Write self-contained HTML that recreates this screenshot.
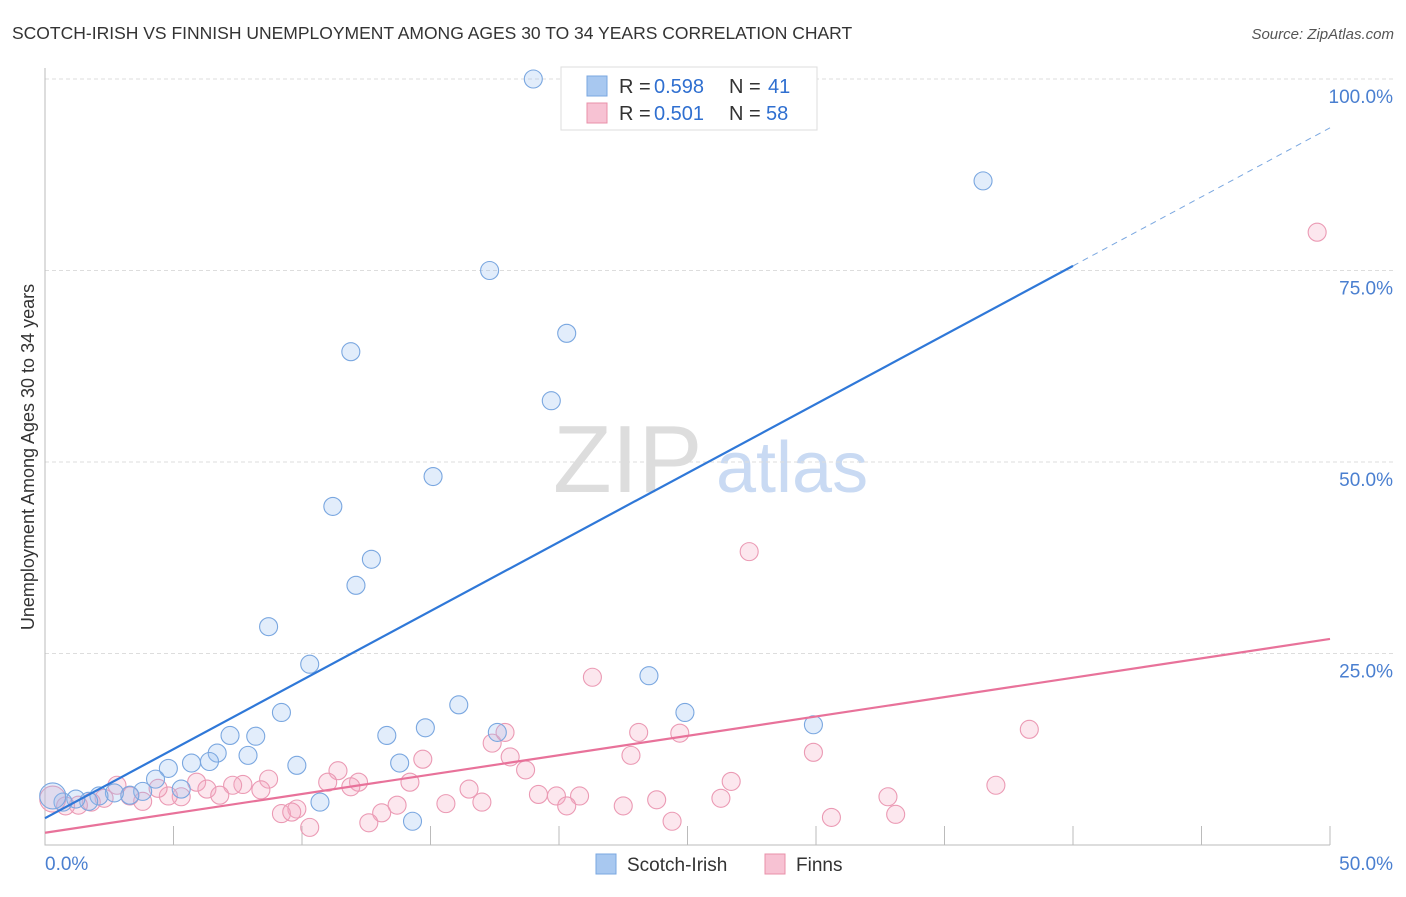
<!DOCTYPE html>
<html><head><meta charset="utf-8"><style>
body{margin:0;background:#fff;font-family:"Liberation Sans",sans-serif}
svg text{font-family:"Liberation Sans",sans-serif}
</style></head><body>
<svg width="1406" height="892" viewBox="0 0 1406 892" id="chart">
<text x="12" y="39" font-size="17.5" fill="#333">SCOTCH-IRISH VS FINNISH UNEMPLOYMENT AMONG AGES 30 TO 34 YEARS CORRELATION CHART</text>
<text x="1394" y="39" font-size="15" fill="#555" text-anchor="end" font-style="italic">Source: ZipAtlas.com</text>
<text x="34" y="457" font-size="18" fill="#333" text-anchor="middle" transform="rotate(-90 34 457)">Unemployment Among Ages 30 to 34 years</text>
<text x="553" y="492" font-size="96" fill="#ddd" font-family="Liberation Serif">ZIP</text>
<text x="716" y="492" font-size="72" fill="#c9daf3">atlas</text>
<g id="grid"></g><g id="pts"></g><g id="lines"></g>
<g>
<rect x="561" y="67" width="256" height="63" fill="#fff" stroke="#ddd"/>
<rect x="587" y="76" width="20" height="20" fill="#a8c8f0" stroke="#7aa7e0"/>
<text x="619" y="93" font-size="20" fill="#333">R =</text><text x="654" y="93" font-size="20" fill="#2f6fd0">0.598</text>
<text x="729" y="93" font-size="20" fill="#333">N =</text><text x="768" y="93" font-size="20" fill="#2f6fd0">41</text>
<rect x="587" y="103" width="20" height="20" fill="#f7c2d3" stroke="#e890aa"/>
<text x="619" y="120" font-size="20" fill="#333">R =</text><text x="654" y="120" font-size="20" fill="#2f6fd0">0.501</text>
<text x="729" y="120" font-size="20" fill="#333">N =</text><text x="766" y="120" font-size="20" fill="#2f6fd0">58</text>
</g>
<g>
<rect x="596" y="854" width="20" height="20" fill="#a8c8f0" stroke="#7aa7e0"/>
<text x="627" y="871" font-size="19" fill="#333">Scotch-Irish</text>
<rect x="765" y="854" width="20" height="20" fill="#f7c2d3" stroke="#e890aa"/>
<text x="796" y="871" font-size="19" fill="#333">Finns</text>
</g>
</svg>
<script>
const yTicks=[25,50,75,100];
const yTickLabels=["25.0%","50.0%","75.0%","100.0%"];
const xTicks=[5,10,15,20,25,30,35,40,45,50];
const blueX=[19,36.5,17.3,20.3,11.9,19.7,15.1,11.2,12.7,12.1,8.7,10.3,23.5,16.1,24.9,9.2,14.8,17.6,29.9,7.2,8.2,13.3,6.7,7.9,5.7,6.4,4.8,9.8,13.8,4.3,5.3,3.8,3.3,2.7,2.1,1.7,1.2,0.7,0.3,10.7,14.3];
const blueY=[100,86.7,75,66.8,64.4,58,48.1,44.2,37.3,33.9,28.5,23.6,22.1,18.3,17.3,17.3,15.3,14.7,15.7,14.3,14.2,14.3,12,11.7,10.7,10.9,10,10.4,10.7,8.6,7.3,7.0,6.5,6.8,6.4,5.7,6,5.6,6.4,5.6,3.1];
const pinkX=[49.5,27.4,21.3,38.3,29.9,22.8,23.1,24.7,17.4,17.9,18.1,18.7,14.7,11.4,11,12.2,11.9,14.2,26.7,37,8.7,7.7,7.3,8.4,5.9,6.3,6.8,5.3,4.8,3.8,3.3,2.8,4.4,2.3,1.8,1.3,0.8,16.5,19.2,19.9,20.8,17,15.6,13.7,20.3,22.5,23.8,26.3,32.8,9.8,9.2,9.6,13.1,12.6,10.3,24.4,30.6,33.1,0.3];
const pinkY=[80,38.3,21.9,15.1,12.1,11.7,14.7,14.6,13.3,14.7,11.5,9.8,11.2,9.7,8.2,8.2,7.6,8.2,8.3,7.8,8.6,7.9,7.8,7.2,8.2,7.3,6.5,6.3,6.4,5.7,6.4,7.8,7.4,6.1,5.6,5.2,5.1,7.3,6.6,6.4,6.4,5.6,5.4,5.2,5.1,5.1,5.9,6.1,6.3,4.7,4.1,4.3,4.2,2.9,2.3,3.1,3.6,4.0,6.0];
const blueFit=[3.5,75.6];
const pinkFit=[1.6,26.9];
const NS="http://www.w3.org/2000/svg";
const X=v=>45+v*25.7, Y=v=>845-v*7.66;
function mk(t,a,p){const e=document.createElementNS(NS,t);for(const k in a)e.setAttribute(k,a[k]);p.appendChild(e);return e;}
const g=document.getElementById('grid');
yTicks.forEach((t,i)=>{
 const l=mk('line',{x1:45,x2:1395,y1:Y(t),y2:Y(t),stroke:'#ddd','stroke-dasharray':'4,3'},g);
 
 
 const tx=mk('text',{x:1393,y:Y(t)+24,'font-size':19,fill:'#4a7fd0','text-anchor':'end'},g);
 tx.textContent=yTickLabels[i];
 
 
});
const ax=mk('path',{d:'M45 68V845H1330',stroke:'#bbb',fill:'none'},g);


xTicks.forEach(t=>{
 const l=mk('line',{x1:X(t),x2:X(t),y1:826,y2:845,stroke:'#bbb'},g);
 
 
});
[["0.0%",45,'start'],["50.0%",1393,'end']].forEach(a=>{
 const tx=mk('text',{x:a[1],y:870,'font-size':19,fill:'#4a7fd0','text-anchor':a[2]},g);
 tx.textContent=a[0];
 
 
});
const p=document.getElementById('pts');
pinkX.forEach((x,i)=>{
 const c=mk('circle',{cx:X(x),cy:Y(pinkY[i]),r:i==pinkX.length-1?13:9,fill:'rgba(245,170,195,0.28)',stroke:'#eb9ab4','stroke-width':1.1},p);
 
 
});
blueX.forEach((x,i)=>{
 const c=mk('circle',{cx:X(x),cy:Y(blueY[i]),r:i==38?13:9,fill:'rgba(150,190,240,0.28)',stroke:'#7aa7e0','stroke-width':1.1},p);
 
 
});
const L=document.getElementById('lines');
const bAt=x=>blueFit[0]+(blueFit[1]-blueFit[0])*x/40;
let e=mk('line',{x1:X(0),y1:Y(bAt(0)),x2:X(40),y2:Y(bAt(40)),stroke:'#2f78d8','stroke-width':2.2},L);


e=mk('line',{x1:X(40),y1:Y(bAt(40)),x2:X(50),y2:Y(bAt(50)),stroke:'#7aa7e0','stroke-width':1,'stroke-dasharray':'6,5'},L);


e=mk('line',{x1:X(0),y1:Y(pinkFit[0]),x2:X(50),y2:Y(pinkFit[1]),stroke:'#e8729a','stroke-width':2.2},L);


</script>
</body></html>
